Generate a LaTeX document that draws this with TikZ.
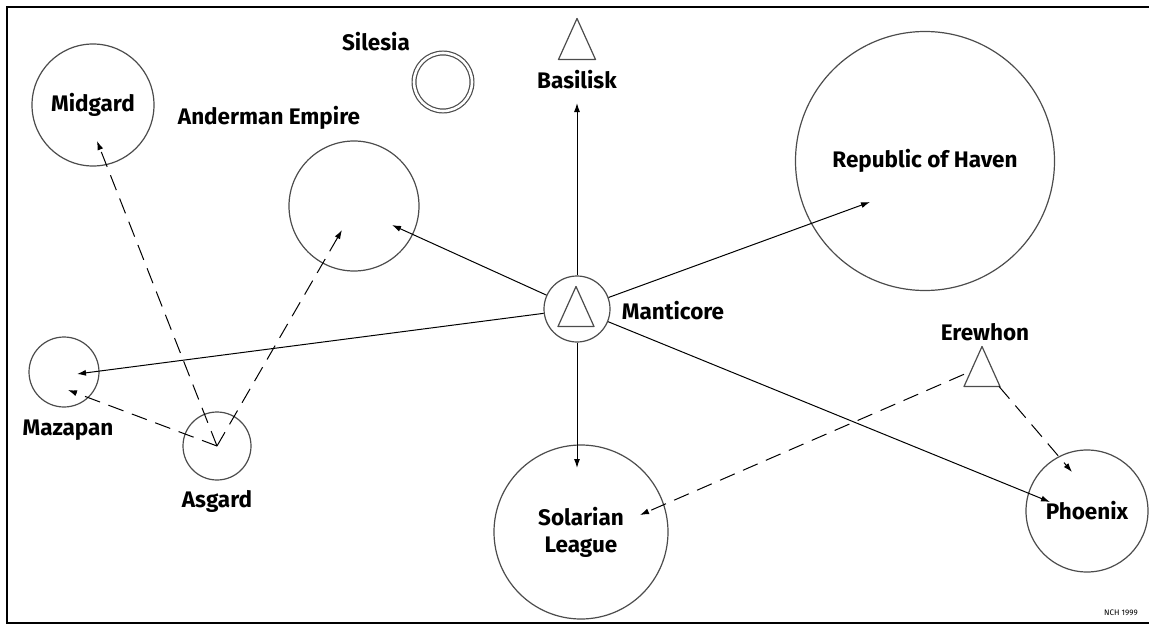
\documentclass[tikz,border=0pt]{standalone}
\usepackage{fontspec}
\setmainfont{Fira Sans}
\usetikzlibrary{arrows.meta}
\newcommand\tridraw[1]{\draw[black!70, line width=1.2pt, line join=round] (#1.north) -- (#1.south east) -- (#1.south west) -- cycle;}
\begin{document}
\begin{tikzpicture}[x=1pt, y=-1pt, line width=1pt,
    world/.style={circle, draw=black!70, line width=1.2pt, inner sep=0pt, font=\fontsize{22.5}{27}\selectfont\bfseries, align=center},
    spot/.style={inner sep=0pt, minimum width=36pt, minimum height=40pt},
    title/.style={font=\fontsize{22.5}{27}\selectfont\bfseries, align=center},
    tie/.style={-{Latex[length=9pt,width=6pt]}},
    claim/.style={tie, dash pattern=on 16pt off 9pt}]
  \useasboundingbox (0,0) rectangle (1149,626);
  \draw[line width=2pt] (1149,7) -- (7,7) -- (7,623) -- (1149,623);

  % star nations
  \node[world, minimum size=122pt] (midgard) at (93,105) {Midgard};
  \node[world, minimum size=130pt] (anderman) at (354,206) {};
  \node[world, minimum size=58pt, double, double distance=2.6pt] (silesia) at (443,82) {};
  \node[world, minimum size=66pt] (mant) at (577,309) {};
  \node[world, minimum size=259pt] (haven) at (925,161) {Republic of Haven};
  \node[world, minimum size=70pt] (mazapan) at (64,372) {};
  \node[world, minimum size=68pt] (asgard) at (217,446) {};
  \node[world, minimum size=174pt] (solarian) at (581,532) {Solarian\\League};
  \node[world, minimum size=122pt] (phoenix) at (1087,511) {Phoenix};

  % triangles
  \node[spot] (basilisk) at (577,39) {};
  \node[spot, minimum width=35pt, minimum height=39pt] (mantT) at (576,306.5) {};
  \node[spot, minimum width=35pt, minimum height=39pt] (erewhon) at (982,366.5) {};
  \tridraw{basilisk}
  \tridraw{mantT}
  \tridraw{erewhon}

  % names
  \node[title] (andermanN) at (269,118) {Anderman Empire};
  \node[title] (silesiaN) at (376,42) {Silesia};
  \node[title] (basiliskN) at (577,80) {Basilisk};
  \node[title] (mantN) at (673,311) {Manticore};
  \node[title] (erewhonN) at (985,332) {Erewhon};
  \node[title] (mazapanN) at (68,430) {Mazapan};
  \node[title] (asgardN) at (217,501) {Asgard};
  \node[font=\fontsize{8}{9}\selectfont] (nch) at (1121,613) {NCH 1999};

  % arrow tips
  \coordinate (toBasilisk) at (577,103);
  \coordinate (toHaven) at (870,202);
  \coordinate (toAnderman) at (392,225);
  \coordinate (toMazapan) at (77,374);
  \coordinate (toSolarian) at (577,468);
  \coordinate (toPhoenix) at (1050,502);
  \coordinate (dMidgard) at (97,141);
  \coordinate (dAnderman) at (342,230);
  \coordinate (dMazapan) at (68,390);
  \coordinate (dSolarian) at (640,515);
  \coordinate (dPhoenix) at (1072,472);

  \draw[tie] (mant) -- (toBasilisk);
  \draw[tie] (mant) -- (toHaven);
  \draw[tie] (mant) -- (toAnderman);
  \draw[tie] (mant) -- (toMazapan);
  \draw[tie] (mant) -- (toSolarian);
  \draw[tie] (mant) -- (toPhoenix);
  \draw[claim] (asgard.center) -- (dMidgard);
  \draw[claim] (asgard.center) -- (dAnderman);
  \draw[claim] (asgard.center) -- (dMazapan);
  \draw[claim] (erewhon) -- (dSolarian);
  \draw[claim] (erewhon) -- (dPhoenix);
\end{tikzpicture}
\end{document}
